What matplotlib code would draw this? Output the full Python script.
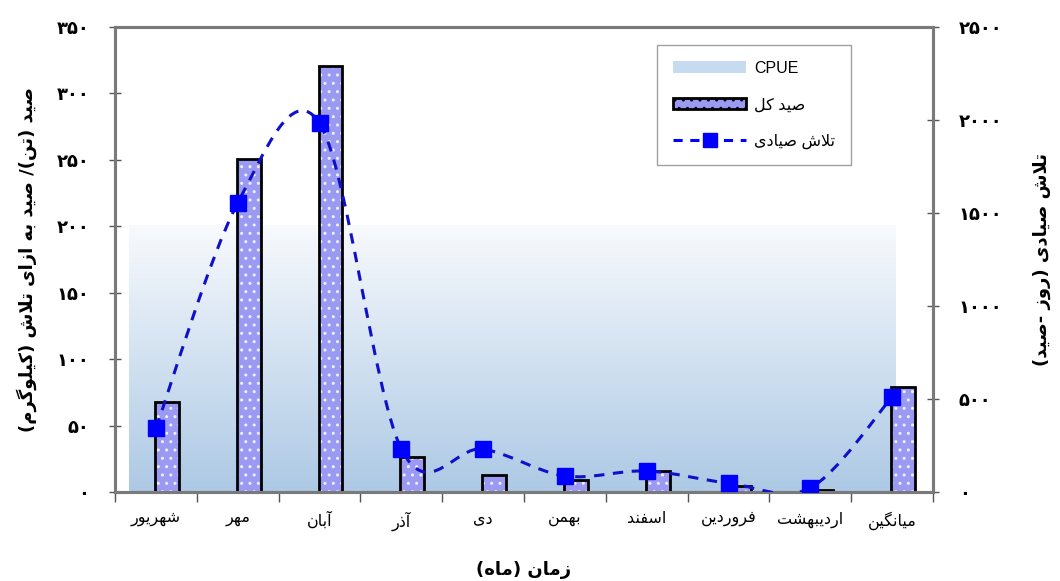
import numpy as np
import matplotlib
matplotlib.use("Agg")
import matplotlib.pyplot as plt
from matplotlib.path import Path
from matplotlib.patches import PathPatch, Patch
from matplotlib.lines import Line2D

plt.rcParams['font.family'] = ['DejaVu Sans']
plt.rcParams['hatch.linewidth'] = 1.0

months = ["شهریور", "مهر", "آبان", "آذر", "دی", "بهمن", "اسفند", "فروردین", "اردیبهشت", "میانگین"]
catch = [68, 251, 321, 26, 13, 9, 16, 4.5, 1.5, 79]          # صید کل (تن)
effort = [344, 1554, 1984, 231, 231, 86, 113, 48, 22, 511]     # تلاش صیادی (روز-صید)
cpue = [201, 201, 201, 201, 201, 201, 201, 201, 201, 201]      # کیلوگرم
left_ticks = [0, 50, 100, 150, 200, 250, 300, 350]
right_ticks = [0, 500, 1000, 1500, 2000, 2500]

# --- minimal Persian shaping (matplotlib has no bidi / joining support) ---
FORMS = {  # isolated, final, initial, medial
    'ا': ('\uFE8D', '\uFE8E', None, None), 'آ': ('\uFE81', '\uFE82', None, None),
    'ب': ('\uFE8F', '\uFE90', '\uFE91', '\uFE92'), 'ت': ('\uFE95', '\uFE96', '\uFE97', '\uFE98'),
    'د': ('\uFEA9', '\uFEAA', None, None), 'ذ': ('\uFEAB', '\uFEAC', None, None),
    'ر': ('\uFEAD', '\uFEAE', None, None), 'ز': ('\uFEAF', '\uFEB0', None, None),
    'س': ('\uFEB1', '\uFEB2', '\uFEB3', '\uFEB4'), 'ش': ('\uFEB5', '\uFEB6', '\uFEB7', '\uFEB8'),
    'ص': ('\uFEB9', '\uFEBA', '\uFEBB', '\uFEBC'), 'ف': ('\uFED1', '\uFED2', '\uFED3', '\uFED4'),
    'ل': ('\uFEDD', '\uFEDE', '\uFEDF', '\uFEE0'), 'م': ('\uFEE1', '\uFEE2', '\uFEE3', '\uFEE4'),
    'ن': ('\uFEE5', '\uFEE6', '\uFEE7', '\uFEE8'), 'ه': ('\uFEE9', '\uFEEA', '\uFEEB', '\uFEEC'),
    'و': ('\uFEED', '\uFEEE', None, None), 'ی': ('\uFBFC', '\uFBFD', '\uFBFE', '\uFBFF'),
    'ک': ('\uFB8E', '\uFB8F', '\uFB90', '\uFB91'), 'گ': ('\uFB92', '\uFB93', '\uFB94', '\uFB95'),
    'ﻻ': ('\uFEFB', '\uFEFC', None, None),
}
MIRROR = {'(': ')', ')': '('}
FA_DIGITS = str.maketrans("0123456789", "۰۱۲۳۴۵۶۷۸۹")


def fa(text):
    text = text.replace('لا', 'ﻻ')
    out = []
    for i, ch in enumerate(text):
        if ch not in FORMS:
            out.append(MIRROR.get(ch, ch))
            continue
        prev = text[i - 1] if i > 0 else ''
        nxt = text[i + 1] if i + 1 < len(text) else ''
        joins_prev = prev in FORMS and FORMS[prev][2] is not None
        joins_next = FORMS[ch][2] is not None and nxt in FORMS
        iso, fin, ini, med = FORMS[ch]
        if joins_prev and joins_next:
            out.append(med)
        elif joins_prev:
            out.append(fin)
        elif joins_next:
            out.append(ini)
        else:
            out.append(iso)
    return ''.join(reversed(out))


x = np.arange(len(months))

fig = plt.figure(figsize=(10.6, 5.81), dpi=100)
ax = fig.add_axes([0.1085, 0.1532, 0.7717, 0.8003])
ax2 = ax.twinx()

# CPUE area with a white-to-blue vertical gradient
area_x = np.linspace(-0.33, 9.05, len(cpue))
poly = ax.fill_between(area_x, 0, cpue, color='none', lw=0)
grad = np.linspace(0, 1, 256).reshape(-1, 1)
cmap = matplotlib.colors.LinearSegmentedColormap.from_list('cpue', ['#adc9e5', '#f8fafd'])
img = ax.imshow(grad, cmap=cmap, origin='lower', aspect='auto',
                extent=[area_x[0], area_x[-1], 0, max(cpue)], zorder=1)
img.set_clip_path(poly.get_paths()[0], transform=ax.transData)
ax.set_xlim(-0.5, len(months) - 0.5)
ax.set_ylim(0, 350)
ax2.set_ylim(0, 2500)

# total catch bars: dotted fill, then black outline
ax.bar(x - 0.01, catch, width=0.29, align='edge', color='#9a9af2',
       edgecolor='#eeeeff', hatch='..', lw=0, zorder=3)
ax.bar(x - 0.01, catch, width=0.29, align='edge', fill=False,
       edgecolor='black', lw=2.0, zorder=4)

# fishing effort: smoothed dashed line (Catmull-Rom bezier through the points)
pts = np.column_stack([x, effort]).astype(float)
verts = [pts[0]]
codes = [Path.MOVETO]
for i in range(len(pts) - 1):
    p0 = pts[i - 1] if i > 0 else pts[i]
    p3 = pts[i + 2] if i + 2 < len(pts) else pts[i + 1]
    c1 = pts[i] + (pts[i + 1] - p0) / 6
    c2 = pts[i + 1] - (p3 - pts[i]) / 6
    verts += [c1, c2, pts[i + 1]]
    codes += [Path.CURVE4] * 3
ax2.add_patch(PathPatch(Path(verts, codes), fill=False, edgecolor='#1010c8',
                        lw=2.2, linestyle=(0, (3.4, 2.8)), zorder=5))
ax2.plot(x, effort, ls='none', marker='s', ms=11, color='#0000ff', zorder=6)

# axes styling
for a in (ax, ax2):
    for s in a.spines.values():
        s.set_color('#7a7a7a')
        s.set_linewidth(2.2)
ax.set_yticks(left_ticks)
ax.set_yticklabels([str(v).translate(FA_DIGITS) for v in left_ticks],
                   fontsize=13, fontweight='bold')
ax2.set_yticks(right_ticks)
ax2.set_yticklabels([str(v).translate(FA_DIGITS) for v in right_ticks],
                    fontsize=13, fontweight='bold')
ax.tick_params(axis='y', direction='inout', length=9, width=1, color='#555555', pad=14)
ax2.tick_params(axis='y', direction='inout', length=9, width=1, color='#555555', pad=14)

ax.set_xticks(x)
ax.set_xticklabels([fa(m) for m in months], fontsize=11.5)
ax.tick_params(axis='x', length=0, pad=14)
ax.set_xticks(np.arange(-0.5, len(months)), minor=True)
ax.tick_params(axis='x', which='minor', direction='out', length=7, width=1, color='#555555')

ax.set_ylabel(fa("صید (تن)/ صید به ازای تلاش (کیلوگرم)"), fontsize=13,
              fontweight='bold', labelpad=14)
ax2.set_ylabel(fa("تلاش صیادی (روز -صید)"), fontsize=13, fontweight='bold',
               rotation=90, labelpad=22)
ax.set_xlabel(fa("زمان (ماه)"), fontsize=13, fontweight='bold', labelpad=22)

handles = [
    Patch(facecolor='#c6dbef', edgecolor='none'),
    Patch(facecolor='#9a9af2', edgecolor='black', lw=2, hatch='..'),
    Line2D([], [], color='#0000ff', ls=(0, (3, 2.5)), lw=2.2, marker='s', ms=10),
]
labels = ["CPUE", fa("صید کل"), fa("تلاش صیادی")]
leg = ax2.legend(handles, labels, loc='upper left', bbox_to_anchor=(0.6626, 0.962),
                 borderaxespad=0, frameon=True, fancybox=False, edgecolor='#888888',
                 handlelength=4.6, labelspacing=1.35, borderpad=1.0, handletextpad=0.5,
                 prop={'family': ['Liberation Sans', 'DejaVu Sans'], 'size': 11.5})
leg.get_frame().set_linewidth(1.0)
leg.set_zorder(10)

fig.savefig("out.png", dpi=100)
